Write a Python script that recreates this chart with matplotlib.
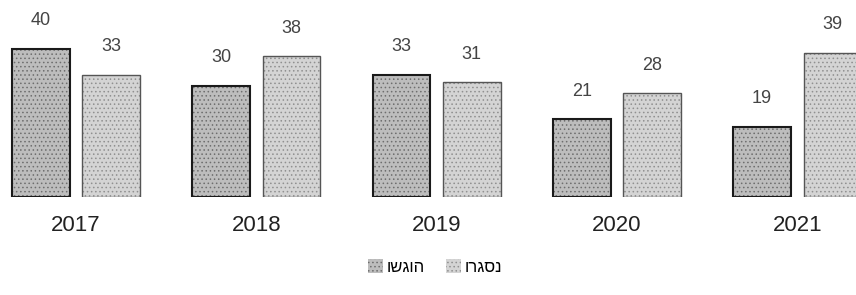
#!/usr/bin/env python3
# -*- coding: utf-8 -*-

import numpy as np
from matplotlib import pyplot as plt

years     = ["2017", "2018", "2019", "2020", "2021"]
submitted = [40, 30, 33, 21, 19]
closed    = [33, 38, 31, 28, 39]
labels    = ["הוגשו", "נסגרו"]


def rtl(s):
    # matplotlib has no bidi support, so flip Hebrew for display
    return s[::-1]


plt.rcParams["font.family"] = ["Liberation Sans", "DejaVu Sans"]
plt.rcParams["hatch.linewidth"] = 0.6

fig = plt.figure(figsize=(8.56, 2.95), dpi=100)
ax = fig.add_axes([0.0, 0.332, 1.0, 0.668])

x = np.arange(len(years))
width = 0.32
offset = 0.195

styles = [
    dict(face="#bdbdbd", dots="#6e6e6e", edge="#1a1a1a", lw=1.5),
    dict(face="#d4d4d4", dots="#909090", edge="#555555", lw=1.0),
]

handles = []
for i, (vals, st) in enumerate(zip([submitted, closed], styles)):
    pos = x + (offset if i else -offset)
    b = ax.bar(pos, vals, width, color=st["face"], edgecolor=st["dots"],
               hatch="....", linewidth=0, label=rtl(labels[i]))
    ax.bar(pos, vals, width, fill=False, edgecolor=st["edge"],
           linewidth=st["lw"])
    handles.append(b)
    for p, v in zip(pos, vals):
        ax.annotate(str(v), (p, v), xytext=(0, 14), textcoords="offset points",
                    ha="center", va="bottom", fontsize=13, color="#444444")

ax.set_xlim(-0.4215, 4.326)
ax.set_ylim(0, 53.2)
ax.set_xticks(x)
ax.set_xticklabels(years, fontsize=16, color="#222222")
ax.tick_params(axis="x", length=0, pad=13)
ax.set_yticks([])
for s in ax.spines.values():
    s.set_visible(False)
ax.patch.set_alpha(0)

fig.legend(handles=handles, loc="center", ncol=2,
           bbox_to_anchor=(435 / 856, 1 - 267 / 295), frameon=False,
           fontsize=12, handlelength=0.9, handleheight=0.9,
           handletextpad=0.2, columnspacing=1.3)

fig.savefig("out.png", dpi=100)
